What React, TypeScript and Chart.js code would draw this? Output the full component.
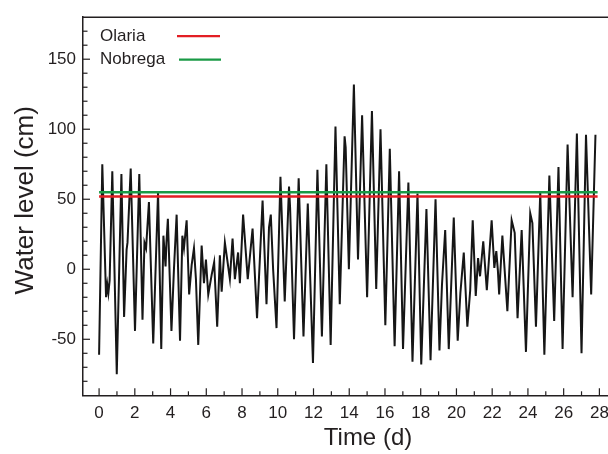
import React, { useEffect, useRef } from "react";
import { Chart, registerables } from "chart.js";

Chart.register(...registerables);

const FONT = '"Liberation Sans", Arial, Helvetica, sans-serif';
const INK = "#231f20";

// Time (days) and water level (cm)
const timeDays = [
  0.0, 0.18, 0.39, 0.46, 0.52, 0.59, 0.74, 0.99, 1.25, 1.4,
  1.54, 1.59, 1.77, 2.01, 2.25, 2.43, 2.54, 2.63, 2.79, 3.03,
  3.3, 3.48, 3.6, 3.72, 3.77, 3.85, 4.05, 4.19, 4.34, 4.53,
  4.66, 4.75, 4.9, 5.04, 5.18, 5.31, 5.42, 5.55, 5.74, 5.87,
  5.98, 6.11, 6.3, 6.44, 6.61, 6.76, 6.86, 7.04, 7.17, 7.32,
  7.47, 7.6, 7.78, 7.88, 8.06, 8.32, 8.59, 8.84, 8.99, 9.15,
  9.37, 9.51, 9.61, 9.74, 9.93, 10.15, 10.39, 10.63, 10.69, 10.91,
  11.17, 11.44, 11.68, 11.97, 12.22, 12.47, 12.72, 12.96, 13.23, 13.47,
  13.74, 13.8, 13.98, 14.26, 14.49, 14.72, 15.0, 15.27, 15.51, 15.75,
  16.02, 16.27, 16.54, 16.79, 17.01, 17.31, 17.54, 17.82, 18.03, 18.32,
  18.55, 18.83, 19.05, 19.19, 19.37, 19.57, 19.85, 20.07, 20.22, 20.41,
  20.61, 20.77, 20.91, 21.08, 21.21, 21.32, 21.5, 21.7, 21.97, 22.12,
  22.23, 22.32, 22.39, 22.57, 22.85, 23.09, 23.26, 23.42, 23.65, 23.89,
  24.13, 24.25, 24.45, 24.69, 24.92, 25.2, 25.47, 25.71, 25.94, 26.22,
  26.5, 26.74, 27.0, 27.25, 27.54, 27.78,
];

const waterLevel = [
  -61, 75, -20, -11, -17, -8, 70, -75, 68, -34,
  14, 19, 72, -44, 68, -36, 19, 15, 48, -53,
  55, -57, 24, 2, 19, 36, -44, 0, 39, -51,
  24, 15, 35, -18, 3, 15, -7, -54, 17, -10,
  7, -18, -4, 5, -41, 10, -16, 19, 7, -7,
  22, -7, 12, -10, 39, -7, 29, -35, 5, 49,
  -25, 30, 39, 0, -42, 66, -23, 59, 44, -50,
  65, -48, 47, -67, 71, -48, 75, -54, 102, -25,
  95, 87, 0, 132, 7, 110, -20, 113, -14, 100,
  -40, 86, -55, 70, -57, 62, -66, 54, -68, 43,
  -65, 50, -58, -11, 28, -57, 37, -51, -17, 12,
  -41, -15, 35, -19, 8, -5, 20, -15, 35, 1,
  13, -1, -18, 24, -30, 35, 26, -35, 28, -59,
  40, 33, -41, 55, -61, 67, -37, 73, -57, 89,
  -20, 97, -60, 96, -18, 96,
];

const seriesNames = ["Olaria", "Nobrega"];
const seriesLevels = [52, 55];
const seriesColors = ["#e31e24", "#1a9a46"];
const referenceSpan = [0, 27.9];

const xTickValues = [
  0, 1, 2, 3, 4, 5, 6, 7, 8, 9, 10, 11, 12, 13, 14, 15,
  16, 17, 18, 19, 20, 21, 22, 23, 24, 25, 26, 27, 28, 29, 30,
];
const yTickValues = [
  -80, -70, -60, -50, -40, -30, -20, -10, 0, 10, 20, 30, 40, 50,
  60, 70, 80, 90, 100, 110, 120, 130, 140, 150, 160, 170,
];

const framePlugin = {
  id: "frameAndLegend",
  afterDraw(chart: any) {
    const { ctx, chartArea: a, scales } = chart;
    ctx.save();
    ctx.strokeStyle = INK;
    ctx.lineWidth = 1.5;
    ctx.beginPath();
    ctx.moveTo(a.left - 0.75, a.top);
    ctx.lineTo(a.right, a.top);
    ctx.lineTo(a.right, a.bottom);
    ctx.stroke();

    ctx.lineWidth = 1.2;
    for (const v of xTickValues) {
      const px = scales.x.getPixelForValue(v);
      const len = v % 2 === 0 ? 7 : 4;
      ctx.beginPath();
      ctx.moveTo(px, a.bottom);
      ctx.lineTo(px, a.bottom - len);
      ctx.stroke();
    }
    for (const v of yTickValues) {
      const py = scales.y.getPixelForValue(v);
      const len = v % 50 === 0 ? 7 : 4.5;
      ctx.beginPath();
      ctx.moveTo(a.left, py);
      ctx.lineTo(a.left + len, py);
      ctx.stroke();
    }

    // y-axis title
    ctx.save();
    ctx.translate(26, (a.top + a.bottom) / 2 - 6);
    ctx.rotate(-Math.PI / 2);
    ctx.font = `26px ${FONT}`;
    ctx.fillStyle = INK;
    ctx.textAlign = "center";
    ctx.textBaseline = "middle";
    ctx.fillText("Water level (cm)", 0, 0);
    ctx.restore();

    // legend
    ctx.font = `17px ${FONT}`;
    ctx.fillStyle = INK;
    ctx.textAlign = "left";
    ctx.textBaseline = "middle";
    const rows = [
      { y: a.top + 19, x0: a.left + 94, x1: a.left + 137 },
      { y: a.top + 42.5, x0: a.left + 96, x1: a.left + 138 },
    ];
    seriesNames.forEach((name, i) => {
      const r = rows[i];
      ctx.fillText(name, a.left + 17, r.y);
      ctx.strokeStyle = seriesColors[i];
      ctx.lineWidth = 2.2;
      ctx.beginPath();
      ctx.moveTo(r.x0, r.y);
      ctx.lineTo(r.x1, r.y);
      ctx.stroke();
    });
    ctx.restore();
  },
};

export default function App() {
  const ref = useRef<HTMLCanvasElement | null>(null);

  useEffect(() => {
    if (!ref.current) return;
    const refDatasets = seriesNames.map((name, i) => ({
      label: name,
      data: referenceSpan.map((t) => ({ x: t, y: seriesLevels[i] })),
      borderColor: seriesColors[i],
      borderWidth: 2.5,
      pointRadius: 0,
      fill: false,
    }));
    const chart = new Chart(ref.current, {
      type: "line",
      data: {
        datasets: [
          ...refDatasets,
          {
            label: "Water level",
            data: timeDays.map((t, i) => ({ x: t, y: waterLevel[i] })),
            borderColor: "#161616",
            borderWidth: 2,
            pointRadius: 0,
            tension: 0,
            fill: false,
          },
        ],
      },
      options: {
        responsive: false,
        animation: false,
        events: [],
        layout: { padding: { top: 12, right: 7, left: 0, bottom: 0 } },
        plugins: { legend: { display: false }, tooltip: { enabled: false } },
        scales: {
          x: {
            type: "linear",
            min: -0.9,
            max: 31,
            afterBuildTicks: (s: any) => {
              s.ticks = xTickValues.map((v) => ({ value: v }));
            },
            afterFit: (s: any) => {
              s.height = 58.7;
            },
            grid: { display: false, drawTicks: false },
            border: { display: true, color: INK, width: 1.5 },
            ticks: {
              autoSkip: false,
              maxRotation: 0,
              padding: 8,
              color: INK,
              font: { family: FONT, size: 17 },
              callback: (v: any) => (v % 2 === 0 ? String(v) : ""),
            },
            title: {
              display: true,
              text: "Time (d)",
              color: INK,
              font: { family: FONT, size: 24 },
              padding: { top: 0, bottom: 1 },
            },
          },
          y: {
            type: "linear",
            min: -90,
            max: 180,
            afterBuildTicks: (s: any) => {
              s.ticks = yTickValues.map((v) => ({ value: v }));
            },
            afterFit: (s: any) => {
              s.width = 83;
            },
            grid: { display: false, drawTicks: false },
            border: { display: true, color: INK, width: 1.5 },
            ticks: {
              autoSkip: false,
              padding: 7,
              color: INK,
              font: { family: FONT, size: 17 },
              callback: (v: any) => (v % 50 === 0 ? String(v) : ""),
            },
          },
        },
      },
      plugins: [framePlugin],
    });
    return () => chart.destroy();
  }, []);

  return (
    <div
      style={{
        position: "absolute",
        left: 0,
        top: 0,
        width: 608,
        height: 454,
        overflow: "hidden",
        background: "#fff",
      }}
    >
      <canvas ref={ref} width={660} height={454} style={{ width: 660, height: 454, display: "block" }} />
    </div>
  );
}
